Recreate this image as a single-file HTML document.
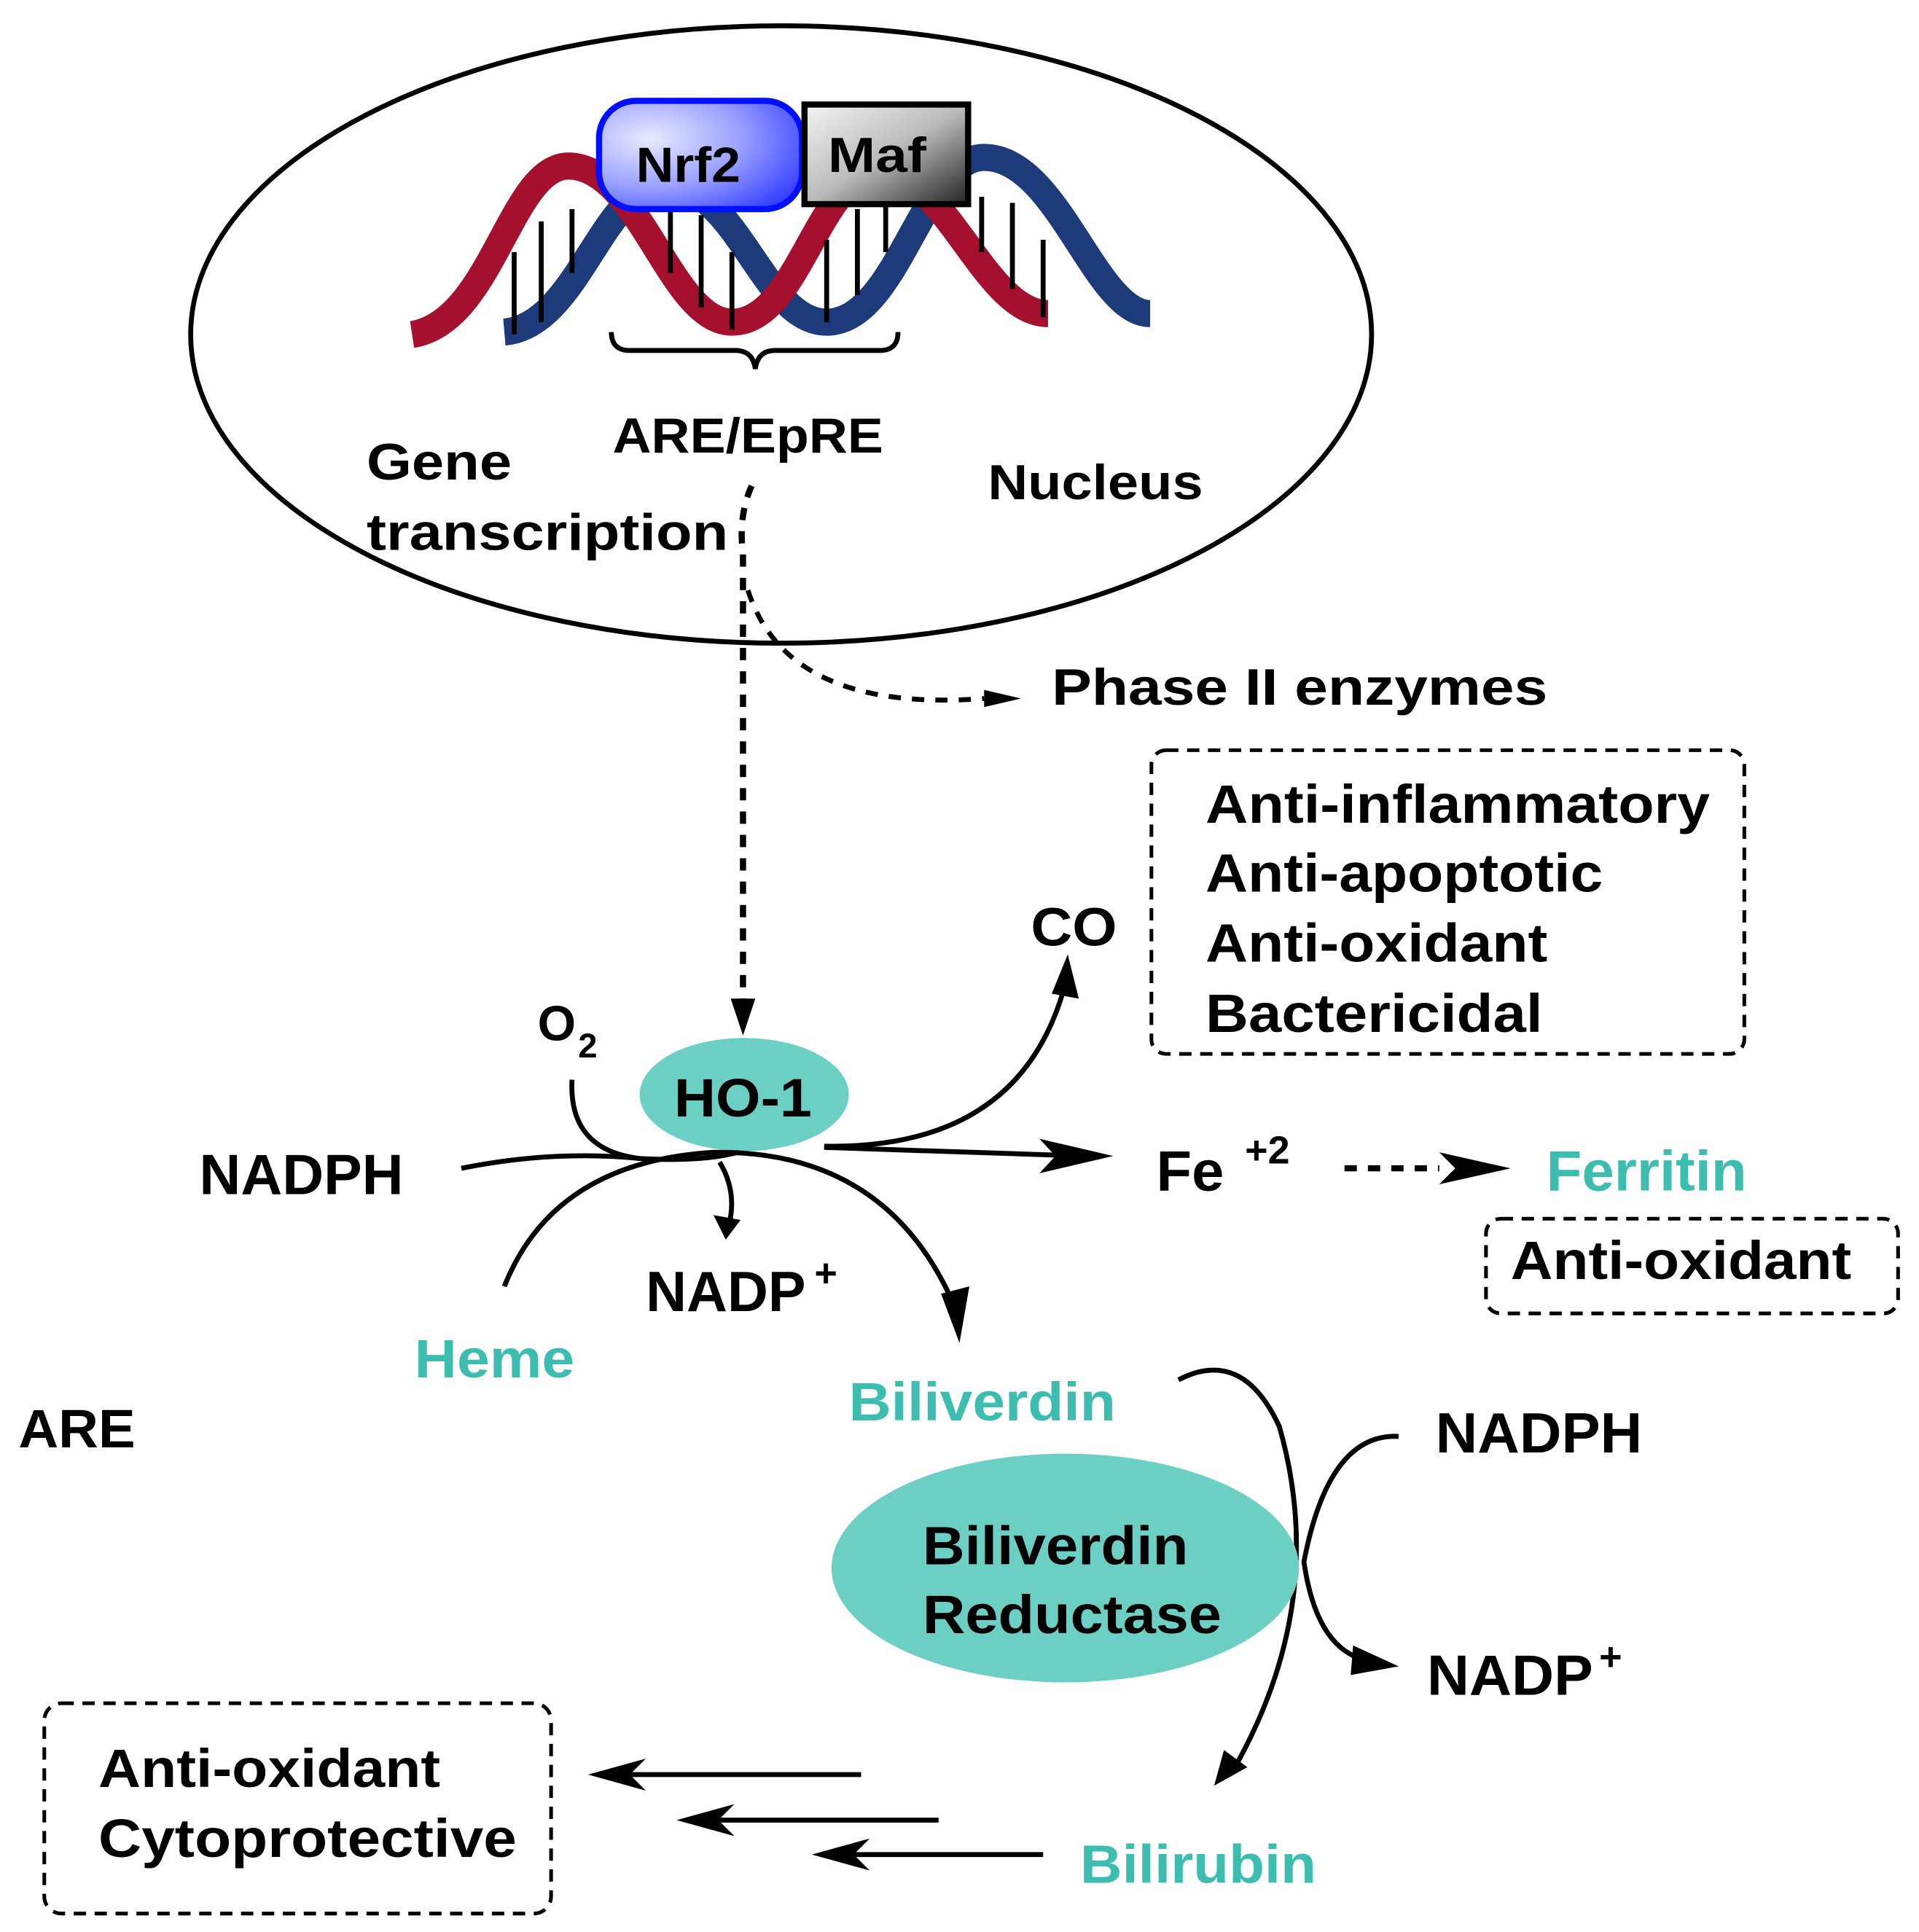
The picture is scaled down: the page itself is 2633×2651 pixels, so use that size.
<!DOCTYPE html>
<html><head><meta charset="utf-8"><style>
html,body{margin:0;padding:0;background:#fff;}
svg{display:block;}
text{font-family:"Liberation Sans",Arial,sans-serif;font-weight:bold;fill:#000;}
.t{fill:#3dbdb0;}
</style></head><body>
<svg width="2633" height="2651" viewBox="0 0 1560 1571" preserveAspectRatio="none" xmlns="http://www.w3.org/2000/svg">
<defs>
<radialGradient id="gb" cx="0.25" cy="0.35" r="0.9"><stop offset="0" stop-color="#e8eaff"/><stop offset="0.5" stop-color="#9aa0ff"/><stop offset="1" stop-color="#2a35ff"/></radialGradient>
<linearGradient id="gg" x1="0" y1="0" x2="1" y2="1"><stop offset="0" stop-color="#f4f4f4"/><stop offset="0.5" stop-color="#bbb"/><stop offset="1" stop-color="#222"/></linearGradient>
</defs>
<rect width="1560" height="1571" fill="#fff"/>
<ellipse cx="635" cy="272" rx="480" ry="251" fill="none" stroke="#000" stroke-width="4"/>
<g fill="none" stroke-width="22" stroke-linecap="butt">
<path d="M410,270 C470,265 490,150 540,150 C600,150 620,262 672,262 C730,262 750,128 800,128 C860,128 890,255 935,255" stroke="#1d3a7a"/>
<path d="M335,272 C400,262 415,135 462,135 C520,135 545,262 595,262 C650,262 665,140 715,140 C770,140 800,255 852,255" stroke="#a4102e"/>
</g>
<g stroke="#000" stroke-width="4">
<line x1="418" y1="205" x2="418" y2="272"/><line x1="440" y1="180" x2="440" y2="262"/><line x1="465" y1="170" x2="465" y2="222"/>
<line x1="545" y1="165" x2="545" y2="222"/><line x1="570" y1="175" x2="570" y2="250"/><line x1="595" y1="205" x2="595" y2="268"/>
<line x1="672" y1="195" x2="672" y2="262"/><line x1="697" y1="170" x2="697" y2="240"/><line x1="720" y1="160" x2="720" y2="205"/>
<line x1="798" y1="160" x2="798" y2="205"/><line x1="823" y1="165" x2="823" y2="235"/><line x1="848" y1="195" x2="848" y2="258"/>
</g>
<rect x="487" y="82" width="165" height="88" rx="30" fill="url(#gb)" stroke="#0010ff" stroke-width="5"/>
<text x="517" y="148" font-size="40" font-weight="normal" textLength="85" lengthAdjust="spacingAndGlyphs">Nrf2</text>
<rect x="654" y="85" width="133" height="81" fill="url(#gg)" stroke="#000" stroke-width="5"/>
<text x="673" y="140" font-size="40" textLength="80" lengthAdjust="spacingAndGlyphs">Maf</text>
<path d="M497,270 Q497,285 512,285 L598,285 Q612,285 614,300 Q616,285 630,285 L715,285 Q730,285 730,270" fill="none" stroke="#000" stroke-width="4"/>
<text x="498" y="368" font-size="40" font-weight="normal" textLength="220" lengthAdjust="spacingAndGlyphs">ARE/EpRE</text>
<text x="298" y="390" font-size="42" textLength="118" lengthAdjust="spacingAndGlyphs">Gene</text>
<text x="298" y="447" font-size="42" textLength="294" lengthAdjust="spacingAndGlyphs">transcription</text>
<text x="803" y="406" font-size="40" textLength="175" lengthAdjust="spacingAndGlyphs">Nucleus</text>
<path d="M611,395 Q600,420 604,450 L604,815" fill="none" stroke="#000" stroke-width="5" stroke-dasharray="10,9"/>
<path d="M594,812 L604,842 L614,812 Z" fill="#000"/>
<path d="M608,480 Q640,580 800,568" fill="none" stroke="#000" stroke-width="4" stroke-dasharray="10,9"/>
<path d="M800,561 L830,568 L800,575 Z" fill="#000"/>
<text x="855" y="573" font-size="42" textLength="403" lengthAdjust="spacingAndGlyphs">Phase II enzymes</text>
<rect x="936" y="610" width="482" height="247" rx="12" fill="none" stroke="#000" stroke-width="3" stroke-dasharray="10,7"/>
<text x="980" y="669" font-size="44" textLength="410" lengthAdjust="spacingAndGlyphs">Anti-inflammatory</text>
<text x="980" y="725" font-size="44" textLength="323" lengthAdjust="spacingAndGlyphs">Anti-apoptotic</text>
<text x="980" y="782" font-size="44" textLength="278" lengthAdjust="spacingAndGlyphs">Anti-oxidant</text>
<text x="980" y="839" font-size="44" textLength="274" lengthAdjust="spacingAndGlyphs">Bactericidal</text>
<text x="838" y="769" font-size="44" textLength="70" lengthAdjust="spacingAndGlyphs">CO</text>
<text x="437" y="846" font-size="40">O</text><text x="470" y="860" font-size="28">2</text>
<ellipse cx="605" cy="890" rx="85" ry="46" fill="#6ccfc4"/>
<text x="548" y="908" font-size="44" textLength="112" lengthAdjust="spacingAndGlyphs">HO-1</text>
<text x="162" y="971" font-size="46" textLength="166" lengthAdjust="spacingAndGlyphs">NADPH</text>
<g fill="none" stroke="#000" stroke-width="4">
<path d="M375,950 Q450,935 520,942 Q570,945 600,937"/>
<path d="M465,878 Q462,935 520,942"/>
<path d="M410,1046 Q450,945 580,937 Q720,935 775,1060"/>
<path d="M585,945 Q600,970 592,998"/>
<path d="M670,933 L880,940"/>
<path d="M670,932 Q830,935 866,800"/>
<path d="M958,1122 Q1010,1095 1040,1160 Q1080,1300 1005,1435"/>
<path d="M1137,1168 Q1080,1165 1060,1270 Q1070,1340 1110,1350"/>
<path d="M700,1443 L500,1443"/><path d="M763,1480 L575,1480"/><path d="M848,1508 L685,1508"/>
</g>
<g fill="#000">
<path d="M765,1052 L780,1092 L788,1046 Z"/>
<path d="M580,988 L590,1008 L602,992 Z"/>
<path d="M845,926 L905,940 L845,954 L858,940 Z"/>
<path d="M855,808 L868,776 L877,812 Z"/>
<path d="M995,1423 L987,1452 L1014,1437 Z"/>
<path d="M1100,1338 L1137,1355 L1098,1362 Z"/>
<path d="M525,1430 L478,1443 L525,1456 L512,1443 Z"/>
<path d="M597,1467 L550,1480 L597,1493 L584,1480 Z"/>
<path d="M707,1495 L660,1508 L707,1521 L694,1508 Z"/>
<path d="M1170,937 L1228,950 L1170,963 L1183,950 Z"/>
</g>
<path d="M1093,950 L1170,950" stroke="#000" stroke-width="5" stroke-dasharray="10,9"/>
<text x="940" y="968" font-size="46" textLength="55" lengthAdjust="spacingAndGlyphs">Fe</text><text x="1012" y="946" font-size="32">+2</text>
<text x="1257" y="968" font-size="46" class="t" textLength="163" lengthAdjust="spacingAndGlyphs">Ferritin</text>
<rect x="1208" y="991" width="335" height="77" rx="12" fill="none" stroke="#000" stroke-width="3" stroke-dasharray="10,7"/>
<text x="1228" y="1040" font-size="44" textLength="277" lengthAdjust="spacingAndGlyphs">Anti-oxidant</text>
<text x="525" y="1066" font-size="46" textLength="130" lengthAdjust="spacingAndGlyphs">NADP</text><text x="662" y="1046" font-size="32">+</text>
<text x="337" y="1120" font-size="44" class="t" textLength="130" lengthAdjust="spacingAndGlyphs">Heme</text>
<text x="690" y="1155" font-size="44" class="t" textLength="217" lengthAdjust="spacingAndGlyphs">Biliverdin</text>
<text x="15" y="1177" font-size="44" textLength="95" lengthAdjust="spacingAndGlyphs">ARE</text>
<ellipse cx="866" cy="1275" rx="190" ry="93" fill="#6ccfc4"/>
<text x="750" y="1272" font-size="44" textLength="216" lengthAdjust="spacingAndGlyphs">Biliverdin</text>
<text x="750" y="1328" font-size="44" textLength="243" lengthAdjust="spacingAndGlyphs">Reductase</text>
<text x="1167" y="1181" font-size="46" textLength="168" lengthAdjust="spacingAndGlyphs">NADPH</text>
<text x="1160" y="1378" font-size="46" textLength="135" lengthAdjust="spacingAndGlyphs">NADP</text><text x="1300" y="1358" font-size="32">+</text>
<text x="878" y="1531" font-size="44" class="t" textLength="192" lengthAdjust="spacingAndGlyphs">Bilirubin</text>
<rect x="36" y="1385" width="412" height="171" rx="14" fill="none" stroke="#000" stroke-width="3" stroke-dasharray="10,7"/>
<text x="80" y="1453" font-size="44" textLength="278" lengthAdjust="spacingAndGlyphs">Anti-oxidant</text>
<text x="80" y="1510" font-size="44" textLength="340" lengthAdjust="spacingAndGlyphs">Cytoprotective</text>
</svg>
</body></html>
